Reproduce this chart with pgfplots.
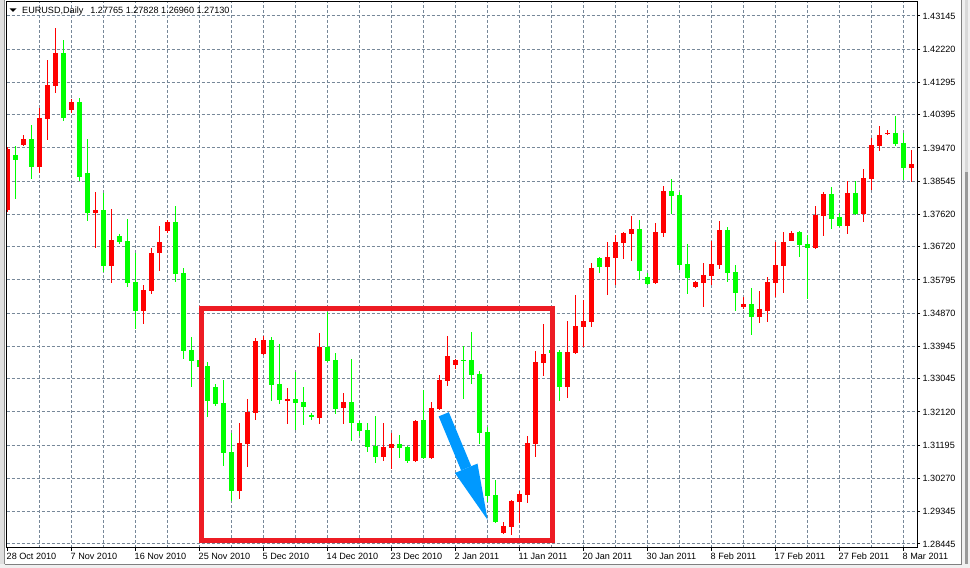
\documentclass[border=0pt]{standalone}
\usepackage{fontspec}
\setmainfont{Liberation Sans}
\usepackage{pgfplots}
\usepackage{pgfplotstable}
\pgfplotsset{compat=1.18}
\usetikzlibrary{arrows.meta}
\definecolor{cRed}{RGB}{255,0,0}
\definecolor{cGreen}{RGB}{0,255,0}
\definecolor{gridc}{RGB}{119,136,153}
\definecolor{boxRed}{RGB}{237,28,36}
\definecolor{arrowBlue}{RGB}{0,153,255}

% EURUSD daily candles: bar index, Open, High, Low, Close
% rising candles (drawn red)
\pgfplotstableread{
i O H L C
0 1.3774 1.3950 1.3769 1.3944
2 1.3955 1.3983 1.3953 1.3972
4 1.3894 1.4058 1.3877 1.4030
5 1.4028 1.4192 1.3969 1.4122
6 1.4120 1.4281 1.4100 1.4211
8 1.4053 1.4083 1.4044 1.4075
11 1.3766 1.3824 1.3669 1.3774
13 1.3618 1.3777 1.3571 1.3691
17 1.3493 1.3566 1.3457 1.3552
18 1.3549 1.3669 1.3540 1.3655
19 1.3655 1.3730 1.3605 1.3685
20 1.3716 1.3746 1.3710 1.3741
29 1.2992 1.3181 1.2970 1.3126
30 1.3123 1.3248 1.3059 1.3212
31 1.3209 1.3418 1.3190 1.3410
32 1.3373 1.3424 1.3370 1.3412
35 1.3245 1.3279 1.3179 1.3248
39 1.3195 1.3432 1.3179 1.3393
42 1.3223 1.3265 1.3179 1.3240
47 1.3087 1.3181 1.3076 1.3115
48 1.3112 1.3154 1.3053 1.3123
51 1.3076 1.3190 1.3074 1.3187
53 1.3084 1.3240 1.3081 1.3223
54 1.3220 1.3315 1.3218 1.3301
55 1.3298 1.3424 1.3284 1.3368
56 1.3343 1.3360 1.3332 1.3357
62 1.2875 1.2906 1.2872 1.2895
63 1.2892 1.2967 1.2870 1.2964
64 1.2961 1.2992 1.2903 1.2984
65 1.2981 1.3145 1.2959 1.3126
66 1.3123 1.3382 1.3087 1.3351
67 1.3348 1.3457 1.3312 1.3373
70 1.3282 1.3465 1.3251 1.3379
71 1.3376 1.3538 1.3373 1.3451
72 1.3449 1.3524 1.3393 1.3465
73 1.3463 1.3627 1.3449 1.3613
75 1.3616 1.3685 1.3538 1.3644
76 1.3641 1.3705 1.3566 1.3685
77 1.3682 1.3713 1.3638 1.3710
78 1.3708 1.3758 1.3632 1.3721
81 1.3571 1.3738 1.3569 1.3713
82 1.3710 1.3841 1.3699 1.3827
86 1.3560 1.3577 1.3558 1.3574
87 1.3571 1.3627 1.3504 1.3593
88 1.3591 1.3688 1.3566 1.3624
89 1.3621 1.3744 1.3610 1.3719
92 1.3504 1.3532 1.3499 1.3513
94 1.3476 1.3549 1.3460 1.3499
95 1.3493 1.3588 1.3463 1.3574
96 1.3571 1.3685 1.3532 1.3621
97 1.3618 1.3713 1.3543 1.3685
98 1.3688 1.3716 1.3687 1.3710
101 1.3669 1.3785 1.3667 1.3760
102 1.3758 1.3824 1.3702 1.3819
105 1.3730 1.3855 1.3708 1.3822
107 1.3763 1.3888 1.3741 1.3863
108 1.3861 1.3975 1.3830 1.3955
109 1.3953 1.4008 1.3939 1.3983
110 1.3986 1.3997 1.3983 1.3989
113 1.3891 1.3941 1.3852 1.3902
}\upData

% falling candles (drawn green)
\pgfplotstableread{
i O H L C
1 1.3927 1.3953 1.3805 1.3914
3 1.3972 1.4011 1.3861 1.3894
7 1.4211 1.4248 1.4022 1.4030
9 1.4075 1.4086 1.3855 1.3866
10 1.3877 1.3972 1.3744 1.3766
12 1.3774 1.3822 1.3602 1.3618
14 1.3702 1.3708 1.3680 1.3685
15 1.3688 1.3749 1.3560 1.3571
16 1.3574 1.3655 1.3443 1.3493
21 1.3741 1.3785 1.3574 1.3596
22 1.3599 1.3613 1.3360 1.3382
23 1.3385 1.3421 1.3282 1.3354
24 1.3357 1.3362 1.3332 1.3337
25 1.3340 1.3351 1.3198 1.3243
26 1.3282 1.3290 1.3229 1.3234
27 1.3237 1.3301 1.3062 1.3098
28 1.3101 1.3154 1.2964 1.2992
33 1.3412 1.3421 1.3243 1.3287
34 1.3290 1.3401 1.3234 1.3245
36 1.3248 1.3323 1.3162 1.3237
37 1.3240 1.3282 1.3176 1.3226
38 1.3204 1.3209 1.3190 1.3198
40 1.3393 1.3490 1.3351 1.3354
41 1.3357 1.3376 1.3206 1.3220
43 1.3240 1.3360 1.3131 1.3181
44 1.3181 1.3187 1.3145 1.3159
45 1.3162 1.3181 1.3101 1.3115
46 1.3117 1.3201 1.3070 1.3087
49 1.3123 1.3148 1.3084 1.3112
50 1.3115 1.3117 1.3070 1.3076
52 1.3190 1.3273 1.3081 1.3084
57 1.3357 1.3396 1.3248 1.3354
58 1.3357 1.3435 1.3290 1.3315
59 1.3318 1.3326 1.3123 1.3154
60 1.3156 1.3170 1.2961 1.2978
61 1.2981 1.3023 1.2903 1.2906
68 1.3385 1.3387 1.3373 1.3376
69 1.3379 1.3385 1.3243 1.3282
74 1.3641 1.3643 1.3599 1.3616
79 1.3721 1.3746 1.3579 1.3605
80 1.3588 1.3599 1.3566 1.3568
83 1.3827 1.3861 1.3763 1.3813
84 1.3816 1.3824 1.3607 1.3621
85 1.3624 1.3680 1.3540 1.3585
90 1.3719 1.3727 1.3574 1.3599
91 1.3602 1.3621 1.3493 1.3543
93 1.3513 1.3557 1.3426 1.3476
99 1.3713 1.3716 1.3644 1.3677
100 1.3680 1.3705 1.3527 1.3669
103 1.3819 1.3838 1.3721 1.3749
104 1.3755 1.3766 1.3728 1.3730
106 1.3822 1.3855 1.3760 1.3763
111 1.3989 1.4036 1.3953 1.3958
112 1.3961 1.3989 1.3858 1.3891
}\downData

\begin{document}
\begin{tikzpicture}[x=1pt,y=1pt]
\useasboundingbox (0,0) rectangle (970,568);
\fill[white] (0,0) rectangle (970,568);
% window chrome
\fill[black!12] (0,0) rectangle (5,568);
\draw[black!45, line width=1pt] (4.5,0) -- (4.5,568);
\fill[black!6] (961,0) rectangle (970,568);
\draw[black!50, line width=1pt] (961.5,0) -- (961.5,568);
\fill[black!15] (965,396) rectangle (967.5,568);
\fill[black!40] (965,4) rectangle (967.5,396);
\fill[black!6] (0,0) rectangle (970,3.5);
\draw[black!50, line width=1pt] (4.5,3.5) -- (961.5,3.5);
\begin{axis}[
  at={(6.5pt,20.2pt)}, anchor=south west,
  scale only axis, width=910.7pt, height=546.6pt,
  xmin=-0.125, xmax=113.71, ymin=1.28339, ymax=1.43557,
  axis line style={black, line width=1pt},
  tick style={black, line width=1pt},
  major tick length=3pt, minor tick length=0pt, tick align=outside,
  xtick pos=left, ytick pos=right, yticklabel pos=right,
  xtick={8,16,...,112},
  xticklabels={7 Nov 2010,16 Nov 2010,25 Nov 2010,5 Dec 2010,14 Dec 2010,23 Dec 2010,2 Jan 2011,11 Jan 2011,20 Jan 2011,30 Jan 2011,8 Feb 2011,17 Feb 2011,27 Feb 2011,8 Mar 2011},
  extra x ticks={0}, extra x tick labels={28 Oct 2010},
  extra x tick style={grid=none},
  minor xtick={4,12,...,108},
  ytick={1.28445,1.29345,1.30270,1.31195,1.32120,1.33045,1.33945,1.34870,1.35795,1.36720,1.37620,1.38545,1.39470,1.40395,1.41295,1.42220,1.43145},
  yticklabels={1.28445,1.29345,1.30270,1.31195,1.32120,1.33045,1.33945,1.34870,1.35795,1.36720,1.37620,1.38545,1.39470,1.40395,1.41295,1.42220,1.43145},
  scaled y ticks=false,
  grid=both,
  major grid style={gridc, dash pattern=on 3pt off 2pt, line width=1pt},
  minor grid style={gridc, dash pattern=on 3pt off 2pt, line width=1pt},
  /pgf/number format/assume math mode=true,
  tick label style={font=\fontsize{9.1}{11}\selectfont, text=black},
  xticklabel style={anchor=north west, inner sep=0pt, xshift=-1pt, yshift=-2pt},
  yticklabel style={anchor=west, inner sep=0pt, xshift=2.2pt},
  candle/.style 2 args={draw=none, mark=none, forget plot,
    error bars/.cd, y dir=both, y explicit, error mark=none,
    error bar style={draw=#1, solid, line width=#2}},
]
% wicks
\addplot[candle={cRed}{1pt}]
  table[x=i, y expr={(\thisrow{H}+\thisrow{L})/2}, y error expr={(\thisrow{H}-\thisrow{L})/2}] \upData;
\addplot[candle={cGreen}{1pt}]
  table[x=i, y expr={(\thisrow{H}+\thisrow{L})/2}, y error expr={(\thisrow{H}-\thisrow{L})/2}] \downData;
% bodies
\addplot[candle={cRed}{5pt}]
  table[x=i, y expr={(\thisrow{O}+\thisrow{C})/2}, y error expr={max(abs(\thisrow{C}-\thisrow{O})/2,0.00014)}] \upData;
\addplot[candle={cGreen}{5pt}]
  table[x=i, y expr={(\thisrow{O}+\thisrow{C})/2}, y error expr={max(abs(\thisrow{C}-\thisrow{O})/2,0.00014)}] \downData;
% annotations
\draw[boxRed, line width=4.5pt] (axis cs:24.23,1.28542) rectangle (axis cs:68.13,1.35007);
\draw[arrowBlue, line width=11pt, -{Triangle[length=56pt,width=24.5pt,line width=0pt]}]
  (axis cs:54.53,1.32056) -- (axis cs:60.02,1.29113);
\end{axis}
% title
\fill[black] (9.5,559.5) -- (16.5,559.5) -- (13,556) -- cycle;
\node[anchor=base west, inner sep=0pt, font=\fontsize{9.1}{11}\selectfont] at (22,554.7)
  {EURUSD,Daily\hspace{7pt}1.27765 1.27828 1.26960 1.27130};
\end{tikzpicture}
\end{document}
